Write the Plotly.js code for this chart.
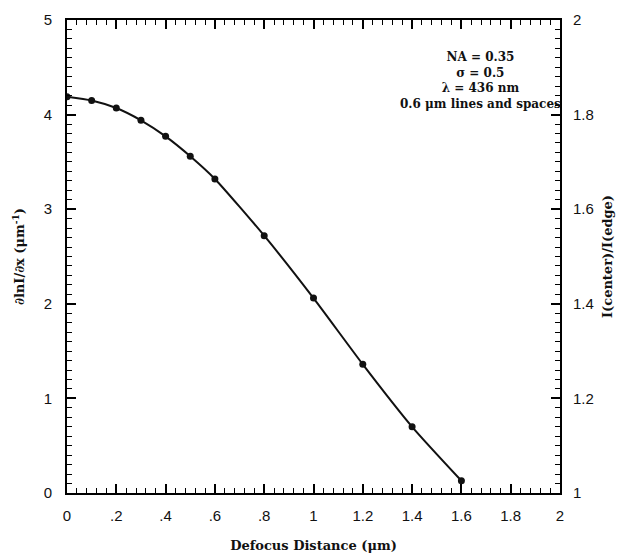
<!DOCTYPE html>
<html>
<head>
<meta charset="utf-8">
<script src="https://cdn.plot.ly/plotly-3.0.1.min.js"></script>
<style>html,body{margin:0;padding:0;background:#fff}#chart{width:621px;height:559px}</style>
</head>
<body>
<div id="chart"></div>
<script>
const defocus = [0, 0.1, 0.2, 0.3, 0.4, 0.5, 0.6, 0.8, 1.0, 1.2, 1.4, 1.6];
const slope = [4.19, 4.15, 4.07, 3.94, 3.77, 3.56, 3.32, 2.72, 2.06, 1.36, 0.70, 0.13];
const xTickVals = [0, 0.2, 0.4, 0.6, 0.8, 1, 1.2, 1.4, 1.6, 1.8, 2];
const xTickText = ["0", ".2", ".4", ".6", ".8", "1", "1.2", "1.4", "1.6", "1.8", "2"];
const yTickVals = [0, 1, 2, 3, 4, 5];
const y2TickVals = [1, 1.2, 1.4, 1.6, 1.8, 2];
const y2TickText = ["1", "1.2", "1.4", "1.6", "1.8", "2"];
const noteLines = ["NA = 0.35", "σ = 0.5", "λ = 436 nm", "0.6 μm lines and spaces"];

const tickFont = {family: "Liberation Sans, Arial, sans-serif", size: 15, color: "#111"};
const titleFont = {family: "DejaVu Serif, serif", size: 13, color: "#111", weight: "bold"};

const trace = {
  x: defocus, y: slope, type: "scatter", mode: "lines+markers",
  line: {color: "#111", width: 2, shape: "spline", smoothing: 0.6},
  marker: {color: "#111", size: 7},
  showlegend: false, hoverinfo: "skip"
};
const dummy = {x: [0], y: [1], yaxis: "y2", type: "scatter", mode: "markers",
  marker: {opacity: 0}, showlegend: false, hoverinfo: "skip"};

const layout = {
  width: 621, height: 559,
  margin: {l: 67, r: 61, t: 20, b: 66},
  paper_bgcolor: "#fff", plot_bgcolor: "#fff",
  xaxis: {
    range: [0, 2], tickmode: "array", tickvals: xTickVals, ticktext: xTickText,
    ticks: "inside", ticklen: 9, tickwidth: 1.6, tickcolor: "#000",
    ticklabelstandoff: 8,
    showline: true, linecolor: "#000", linewidth: 1.8, mirror: "ticks",
    showgrid: false, zeroline: false, tickfont: tickFont,
    minor: {tickmode: "linear", tick0: 0, dtick: 0.04, ticks: "inside", ticklen: 5, tickwidth: 1.3, tickcolor: "#000", showgrid: false},
    title: {text: "Defocus Distance (μm)", font: titleFont, standoff: 18}
  },
  yaxis: {
    range: [0, 5], tickmode: "array", tickvals: yTickVals,
    ticks: "inside", ticklen: 9, tickwidth: 1.6, tickcolor: "#000",
    ticklabelstandoff: 10,
    showline: true, linecolor: "#000", linewidth: 1.8,
    showgrid: false, zeroline: false, tickfont: tickFont,
    minor: {tickmode: "linear", tick0: 0, dtick: 0.1, ticks: "inside", ticklen: 5, tickwidth: 1.3, tickcolor: "#000", showgrid: false},
    title: {text: "∂lnI/∂x (μm<sup>-1</sup>)", font: titleFont, standoff: 16}
  },
  yaxis2: {
    overlaying: "y", side: "right", range: [1, 2],
    tickmode: "array", tickvals: y2TickVals, ticktext: y2TickText,
    ticks: "inside", ticklen: 9, tickwidth: 1.6, tickcolor: "#000",
    ticklabelstandoff: 8,
    showline: true, linecolor: "#000", linewidth: 1.8,
    showgrid: false, zeroline: false, tickfont: tickFont,
    minor: {tickmode: "linear", tick0: 1, dtick: 0.02, ticks: "inside", ticklen: 5, tickwidth: 1.3, tickcolor: "#000", showgrid: false},
    title: {text: "I(center)/I(edge)", font: titleFont, standoff: 10}
  },
  annotations: [{
    xref: "paper", yref: "paper", x: 0.838, y: 0.94, xanchor: "center", yanchor: "top",
    text: noteLines.join("<br>"), showarrow: false, align: "center",
    font: {family: "DejaVu Serif, serif", size: 12, color: "#111", weight: "bold"}
  }]
};

Plotly.newPlot("chart", [trace, dummy], layout, {displayModeBar: false});
</script>
</body>
</html>
